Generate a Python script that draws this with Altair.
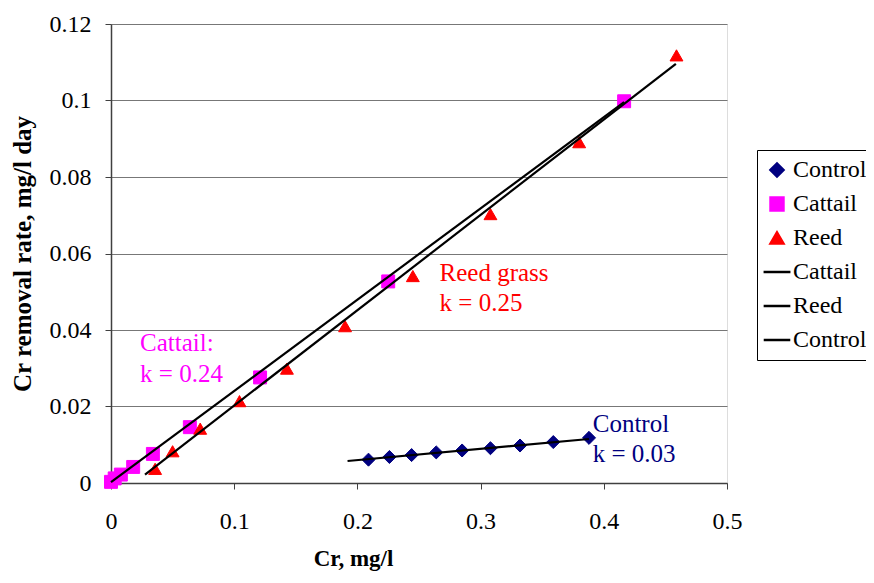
import altair as alt
import pandas as pd

# ---- data ----
control_x = [0.209, 0.226, 0.244, 0.264, 0.285, 0.308, 0.332, 0.359, 0.388]
control_y = [0.0061, 0.0068, 0.0073, 0.0080, 0.0085, 0.0091, 0.0098, 0.0107, 0.0118]

cattail_x = [0.0, 0.003, 0.008, 0.018, 0.034, 0.064, 0.121, 0.225, 0.4165]
cattail_y = [0.0003, 0.0012, 0.0022, 0.0042, 0.0076, 0.0146, 0.0276, 0.0527, 0.0998]

reed_x = [0.0358, 0.050, 0.0724, 0.1043, 0.1428, 0.190, 0.245, 0.308, 0.380, 0.459]
reed_y = [0.0037, 0.0083, 0.0142, 0.0214, 0.0299, 0.0410, 0.0541, 0.0703, 0.0891, 0.1118]

# trend-line end points
cattail_line_x = [0.0, 0.4165]
cattail_line_y = [0.0002, 0.0996]
reed_line_x = [0.0276, 0.4585]
reed_line_y = [0.0022, 0.1096]
control_line_x = [0.192, 0.388]
control_line_y = [0.00575, 0.0115]

# annotations
ann_text = ["Cattail:", "k = 0.24", "Reed grass", "k = 0.25", "Control", "k = 0.03"]
ann_x = [0.0236, 0.0236, 0.2667, 0.2667, 0.391, 0.391]
ann_y = [0.0344, 0.0263, 0.0527, 0.0449, 0.0134, 0.0056]
ann_col = ["#FF00FF", "#FF00FF", "#FF0000", "#FF0000", "#000080", "#000080"]

x_ticks = [0, 0.1, 0.2, 0.3, 0.4, 0.5]
y_ticks = [0, 0.02, 0.04, 0.06, 0.08, 0.1, 0.12]

keys = ["Control", "Cattail", "Reed", "Cattail trend", "Reed trend", "Control trend"]
key_colors = ["#000080", "#FF00FF", "#FF0000", "#000000", "#000000", "#000000"]
LINE_KEY = "M-2.1,0H2.1"
key_shapes = ["diamond", "square", "triangle-up", LINE_KEY, LINE_KEY, LINE_KEY]
key_sizes = [170, 160, 300, 700, 700, 700]

# ---- tables ----
pts = pd.concat([
    pd.DataFrame({"x": control_x, "y": control_y, "series": "Control"}),
    pd.DataFrame({"x": cattail_x, "y": cattail_y, "series": "Cattail"}),
    pd.DataFrame({"x": reed_x, "y": reed_y, "series": "Reed"}),
], ignore_index=True)

lines = pd.concat([
    pd.DataFrame({"x": cattail_line_x, "y": cattail_line_y, "series": "Cattail trend"}),
    pd.DataFrame({"x": reed_line_x, "y": reed_line_y, "series": "Reed trend"}),
    pd.DataFrame({"x": control_line_x, "y": control_line_y, "series": "Control trend"}),
], ignore_index=True)

ann = pd.DataFrame({"x": ann_x, "y": ann_y, "text": ann_text, "col": ann_col})

FONT = "Liberation Serif"

xscale = alt.Scale(domain=[0, 0.5], nice=False)
yscale = alt.Scale(domain=[0, 0.12], nice=False)

xenc = alt.X("x:Q", scale=xscale, axis=alt.Axis(
    values=x_ticks, format=".2~f", title="Cr, mg/l", grid=False, labelFlush=False,
    labelFont=FONT, labelFontSize=24, labelColor="black", labelPadding=20,
    titleFont=FONT, titleFontSize=23, titleFontWeight="bold", titleColor="black",
    titlePadding=14, titleX=242,
    tickSize=6, tickColor="#404040", domainColor="#404040", domainWidth=1.5))
yenc = alt.Y("y:Q", scale=yscale, axis=alt.Axis(
    values=y_ticks, format=".2~f", title="Cr removal rate, mg/l day", grid=True,
    gridColor="#777777", gridWidth=1, labelFlush=False,
    labelFont=FONT, labelFontSize=24, labelColor="black", labelPadding=14,
    titleFont=FONT, titleFontSize=25, titleFontWeight="bold", titleColor="black",
    titlePadding=14,
    tickSize=6, tickColor="#404040", domainColor="#404040", domainWidth=1.5))

legend = alt.Legend(
    title=None, orient="none", legendX=646, legendY=126,
    labelExpr="split(datum.label, ' ')[0]",
    labelFont=FONT, labelFontSize=24, labelColor="black",
    strokeColor="black", fillColor="white", padding=8, rowPadding=10,
    symbolStrokeWidth=2.5, labelOffset=4)

fill_scale = alt.Scale(domain=keys, range=key_colors)
shape_scale = alt.Scale(domain=keys, range=key_shapes)
size_scale = alt.Scale(domain=keys, range=key_sizes)

points = alt.Chart(pts).mark_point(filled=True, strokeWidth=1, opacity=1).encode(
    x=xenc, y=yenc,
    fill=alt.Fill("series:N", scale=fill_scale, legend=legend, title=None),
    stroke=alt.Stroke("series:N", scale=fill_scale, legend=legend, title=None),
    shape=alt.Shape("series:N", scale=shape_scale, legend=legend, title=None),
    size=alt.Size("series:N", scale=size_scale, legend=legend, title=None),
)

trend = alt.Chart(lines).mark_line(strokeWidth=2.2).encode(
    x=xenc, y=yenc,
    stroke=alt.Stroke("series:N", scale=fill_scale, legend=legend, title=None),
)

labels = alt.Chart(ann).mark_text(
    font=FONT, fontSize=25, align="left", baseline="alphabetic").encode(
    x=xenc, y=yenc, text="text:N",
    color=alt.Color("col:N", scale=None),
)

chart = alt.layer(points, trend, labels).properties(
    width=616, height=459,
    autosize=alt.AutoSizeParams(type="none"),
    padding={"left": 103, "top": 16, "right": 139, "bottom": 88},
).configure_view(stroke=None).configure(background="white")

chart.save("out.html", embed_options={"renderer": "svg", "actions": False})
